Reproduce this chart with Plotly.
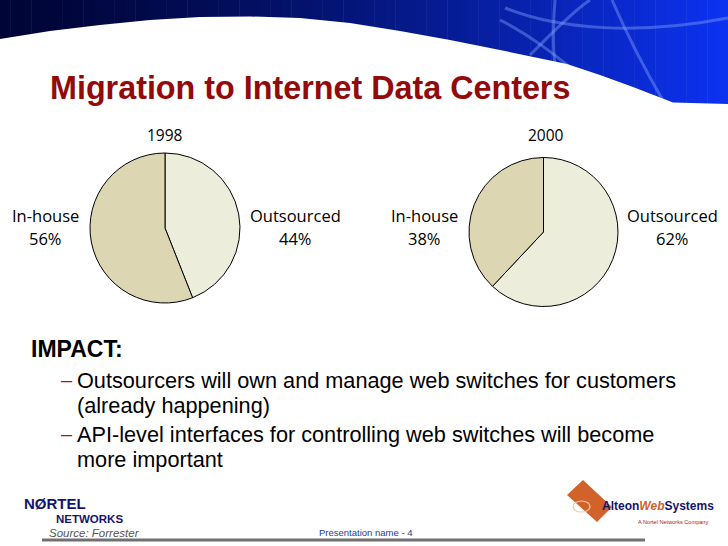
import plotly.graph_objects as go

W, H = 728, 546

# ---- data ----
years = ["1998", "2000"]
categories = ["Outsourced", "In-house"]
values_1998 = [44, 56]
values_2000 = [62, 38]
slice_colors = ["#EDEDDC", "#DCD6B2"]

title_text = "Migration to Internet Data Centers"
impact_head = "IMPACT:"
bullets = [
    ["Outsourcers will own and manage web switches for customers", "(already happening)"],
    ["API-level interfaces for controlling web switches will become", "more important"],
]


def px(x):
    return x / W


def py(y):
    return 1 - y / H


fig = go.Figure()

# pies: (center x, center y, radius) in pixels
pie_geo = [(165, 228, 75), (543.5, 232, 74.5)]
for vals, (cx, cy, r), yr in zip([values_1998, values_2000], pie_geo, years):
    fig.add_trace(go.Pie(
        labels=categories, values=vals, sort=False, direction="clockwise",
        rotation=0, textinfo="none", hoverinfo="label+percent",
        marker=dict(colors=slice_colors, line=dict(color="#000000", width=1)),
        domain=dict(x=[px(cx - r), px(cx + r)], y=[py(cy + r), py(cy - r)]),
        showlegend=False, name=yr,
    ))

shapes = []
# header gradient
n = 70
c0 = (0, 5, 55)
c1 = (12, 50, 240)
for i in range(n):
    t = i / (n - 1)
    t2 = t ** 1.4
    col = tuple(int(round(c0[k] + (c1[k] - c0[k]) * t2)) for k in range(3))
    shapes.append(dict(type="rect", xref="paper", yref="paper",
                       x0=px(W * i / n), x1=px(W * (i + 1) / n + 0.5),
                       y0=py(104), y1=py(0), line=dict(width=0),
                       fillcolor="rgb(%d,%d,%d)" % col, layer="below"))

# decorative light arcs on the blue
arcs = [
    [(505, 8), (560, 30), (640, 35), (728, 18)],
    [(530, 55), (555, 30), (575, 10), (590, 0)],
    [(612, 0), (625, 30), (645, 70), (665, 104)],
    [(500, 20), (530, 35), (555, 55), (580, 75)],
    [(555, 0), (553, 25), (552, 50), (556, 70)],
]
for a in arcs:
    p = "M %f,%f C %f,%f %f,%f %f,%f" % (
        px(a[0][0]), py(a[0][1]), px(a[1][0]), py(a[1][1]),
        px(a[2][0]), py(a[2][1]), px(a[3][0]), py(a[3][1]))
    shapes.append(dict(type="path", xref="paper", yref="paper", path=p,
                       line=dict(color="rgba(140,170,255,0.4)", width=3), layer="below"))

# white curved cut-out
curve = [(0, 39), (50, 31), (100, 25), (150, 20), (200, 17), (250, 16.5), (300, 18),
         (350, 23), (400, 31), (450, 40), (500, 50), (567, 64), (600, 75),
         (633, 87), (673, 102.5), (728, 104)]
path = "M %f,%f " % (px(0), py(105))
for (x, y) in curve:
    path += "L %f,%f " % (px(x), py(y))
path += "L %f,%f Z" % (px(728), py(105))
shapes.append(dict(type="path", xref="paper", yref="paper", path=path,
                   fillcolor="white", line=dict(width=0), layer="below"))

# footer line
shapes.append(dict(type="line", xref="paper", yref="paper",
                   x0=px(42), x1=px(645), y0=py(540), y1=py(540),
                   line=dict(color="#707070", width=3)))

# Alteon logo diamond
logo = [(583, 480), (612, 507), (597, 522), (567, 495)]
lp = "M " + " L ".join("%f,%f" % (px(x), py(y)) for x, y in logo) + " Z"
shapes.append(dict(type="path", xref="paper", yref="paper", path=lp,
                   fillcolor="#D0622A", line=dict(width=0)))
shapes.append(dict(type="circle", xref="paper", yref="paper",
                   x0=px(573), x1=px(590), y0=py(512), y1=py(501),
                   line=dict(color="#F3C8A8", width=1.2)))

annotations = []


def txt(x, y, text, size, color="#000000", family="Open Sans", xanchor="center",
        yanchor="middle", bold=False, italic=False):
    if bold:
        text = "<b>%s</b>" % text
    if italic:
        text = "<i>%s</i>" % text
    annotations.append(dict(x=px(x), y=py(y), xref="paper", yref="paper", text=text,
                            showarrow=False, xanchor=xanchor, yanchor=yanchor,
                            font=dict(size=size, color=color, family=family)))


# title
txt(48, 88, title_text, 32.3, color="#920A0A", family="Liberation Sans",
    xanchor="left", bold=True)

# pie labels
pie_fam = "Open Sans"
txt(165, 135, years[0], 15.5, family=pie_fam)
txt(546, 135, years[1], 15.5, family=pie_fam)
label_pos = [
    [(295, categories[0], values_1998[0]), (45, categories[1], values_1998[1])],
    [(672, categories[0], values_2000[0]), (424, categories[1], values_2000[1])],
]
for grp in label_pos:
    for x, name, v in grp:
        txt(x, 216, name, 16.5, family=pie_fam)
        txt(x, 238, "%d%%" % v, 16.5, family=pie_fam)

# impact text
txt(29, 349, impact_head, 23, family="Liberation Sans", xanchor="left", bold=True)
ys = [[380, 405], [434, 459]]
for lines, yy in zip(bullets, ys):
    txt(59, yy[0], "\u2013", 20, color="#B01010", family="Liberation Sans", xanchor="left")
    for line, y in zip(lines, yy):
        txt(75, y, line, 21.7, family="Liberation Sans", xanchor="left")

# footer
txt(22, 503.5, "N\u00d8RTEL", 15, color="#14146E", family="Liberation Sans", xanchor="left", bold=True)
txt(54, 518.5, "NETWORKS", 11.5, color="#14146E", family="Liberation Sans", xanchor="left", bold=True)
txt(47, 532.5, "Source: Forrester", 11.5, color="#555555", family="Liberation Sans",
    xanchor="left", italic=True)
txt(317, 532, "Presentation name - 4", 9.5, color="#1A3F9A", family="Liberation Sans", xanchor="left")
txt(600, 506, "Alteon<i><span style='color:#D0622A'>Web</span></i>Systems", 12,
    color="#14146E", family="Liberation Sans", xanchor="left", bold=True)
txt(710, 522, "A Nortel Networks Company", 5.6, color="#B02020", family="Liberation Sans",
    xanchor="right")

fig.update_layout(
    width=W, height=H, margin=dict(l=0, r=0, t=0, b=0),
    paper_bgcolor="white", plot_bgcolor="white",
    shapes=shapes, annotations=annotations,
)

fig.write_html("out.html")
